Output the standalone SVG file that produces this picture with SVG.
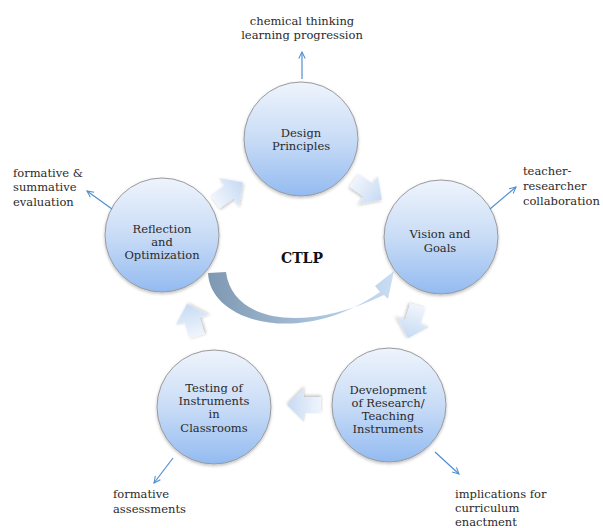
<svg xmlns="http://www.w3.org/2000/svg" width="603" height="528" viewBox="0 0 603 528">
<defs>
<linearGradient id="gc" x1="0" y1="0" x2="0" y2="1">
<stop offset="0" stop-color="#eef4fc"/>
<stop offset="0.5" stop-color="#c9dcf6"/>
<stop offset="1" stop-color="#93bbf1"/>
</linearGradient>
<linearGradient id="ga" x1="0" y1="0" x2="1" y2="0">
<stop offset="0" stop-color="#f0f5fc"/>
<stop offset="1" stop-color="#c6daf3"/>
</linearGradient>
<linearGradient id="gs" x1="0" y1="0" x2="1" y2="0">
<stop offset="0" stop-color="#7f98b2"/>
<stop offset="0.5" stop-color="#a3bcd6"/>
<stop offset="1" stop-color="#c9ddf3"/>
</linearGradient>
<filter id="sh" x="-20%" y="-20%" width="140%" height="140%">
<feDropShadow dx="0" dy="1.5" stdDeviation="1.5" flood-color="#000" flood-opacity="0.25"/>
</filter>
<marker id="ah" viewBox="0 0 10 10" refX="9" refY="5" markerWidth="8" markerHeight="8" orient="auto" markerUnits="userSpaceOnUse">
<path d="M1 1 L9 5 L1 9" fill="none" stroke="#4f8fd0" stroke-width="1.3"/>
</marker>
<path id="blk" d="M-17 -8 L0 -8 L0 -17 L17 0 L0 17 L0 8 L-17 8 Z"/>
</defs>
<style>
.node circle{fill:url(#gc);stroke:#9a9a9a;stroke-width:1;filter:url(#sh)}
.lbl{font-family:"DejaVu Serif","Liberation Serif",serif;font-size:11.5px;fill:#2a2a2a;text-anchor:middle}
.note{font-family:"DejaVu Serif","Liberation Serif",serif;font-size:11.5px;fill:#2a2a2a}
.blk{fill:url(#ga);filter:url(#sh)}
.conn line{stroke:#4f8fd0;stroke-width:1.2;marker-end:url(#ah)}
</style>

<g id="swoosh">
<path d="M208 273 C210 322 300 348 380 292 L375 286 L394 271 L388 299 L384 295 C300 335 232 320 226 272 Z" fill="url(#gs)"/>
</g>

<g id="cycle-arrows">
<use href="#blk" class="blk" transform="translate(229,192) rotate(-35)"/>
<use href="#blk" class="blk" transform="translate(368,190) rotate(35)"/>
<use href="#blk" class="blk" transform="translate(413,322) rotate(107)"/>
<use href="#blk" class="blk" transform="translate(304,405) rotate(180)"/>
<use href="#blk" class="blk" transform="translate(192,320) rotate(-107)"/>
</g>

<g id="design" class="node">
<circle cx="301" cy="139" r="57"/>
<text class="lbl" x="301" y="137">Design</text>
<text class="lbl" x="301" y="150">Principles</text>
</g>
<g id="vision" class="node">
<circle cx="441" cy="237" r="57"/>
<text class="lbl" x="440" y="238">Vision and</text>
<text class="lbl" x="440" y="252">Goals</text>
</g>
<g id="development" class="node">
<circle cx="389" cy="405" r="57"/>
<text class="lbl" x="388" y="394">Development</text>
<text class="lbl" x="388" y="407">of Research/</text>
<text class="lbl" x="388" y="420">Teaching</text>
<text class="lbl" x="388" y="433">Instruments</text>
</g>
<g id="testing" class="node">
<circle cx="214" cy="407" r="57"/>
<text class="lbl" x="214" y="392">Testing of</text>
<text class="lbl" x="214" y="405">Instruments</text>
<text class="lbl" x="214" y="418">in</text>
<text class="lbl" x="214" y="432">Classrooms</text>
</g>
<g id="reflection" class="node">
<circle cx="162" cy="235" r="57"/>
<text class="lbl" x="162" y="233">Reflection</text>
<text class="lbl" x="162" y="246">and</text>
<text class="lbl" x="162" y="259">Optimization</text>
</g>

<g id="center">
<text x="302" y="263" style="font-family:'DejaVu Serif','Liberation Serif',serif;font-size:14px;font-weight:bold;fill:#111;text-anchor:middle">CTLP</text>
</g>

<g id="connectors" class="conn">
<line x1="302" y1="79" x2="302" y2="52"/>
<line x1="490" y1="209" x2="516" y2="187"/>
<line x1="112" y1="209" x2="87" y2="191"/>
<line x1="173" y1="458" x2="154" y2="483"/>
<line x1="435" y1="452" x2="459" y2="474"/>
</g>

<g id="notes">
<text class="note" x="302" y="25" text-anchor="middle">chemical thinking</text>
<text class="note" x="302" y="39" text-anchor="middle">learning progression</text>
<text class="note" x="523" y="175">teacher-</text>
<text class="note" x="523" y="190">researcher</text>
<text class="note" x="523" y="205">collaboration</text>
<text class="note" x="13" y="177">formative &amp;</text>
<text class="note" x="13" y="191">summative</text>
<text class="note" x="13" y="206">evaluation</text>
<text class="note" x="113" y="498">formative</text>
<text class="note" x="113" y="513">assessments</text>
<text class="note" x="455" y="498">implications for</text>
<text class="note" x="455" y="512">curriculum</text>
<text class="note" x="455" y="526">enactment</text>
</g>
</svg>
